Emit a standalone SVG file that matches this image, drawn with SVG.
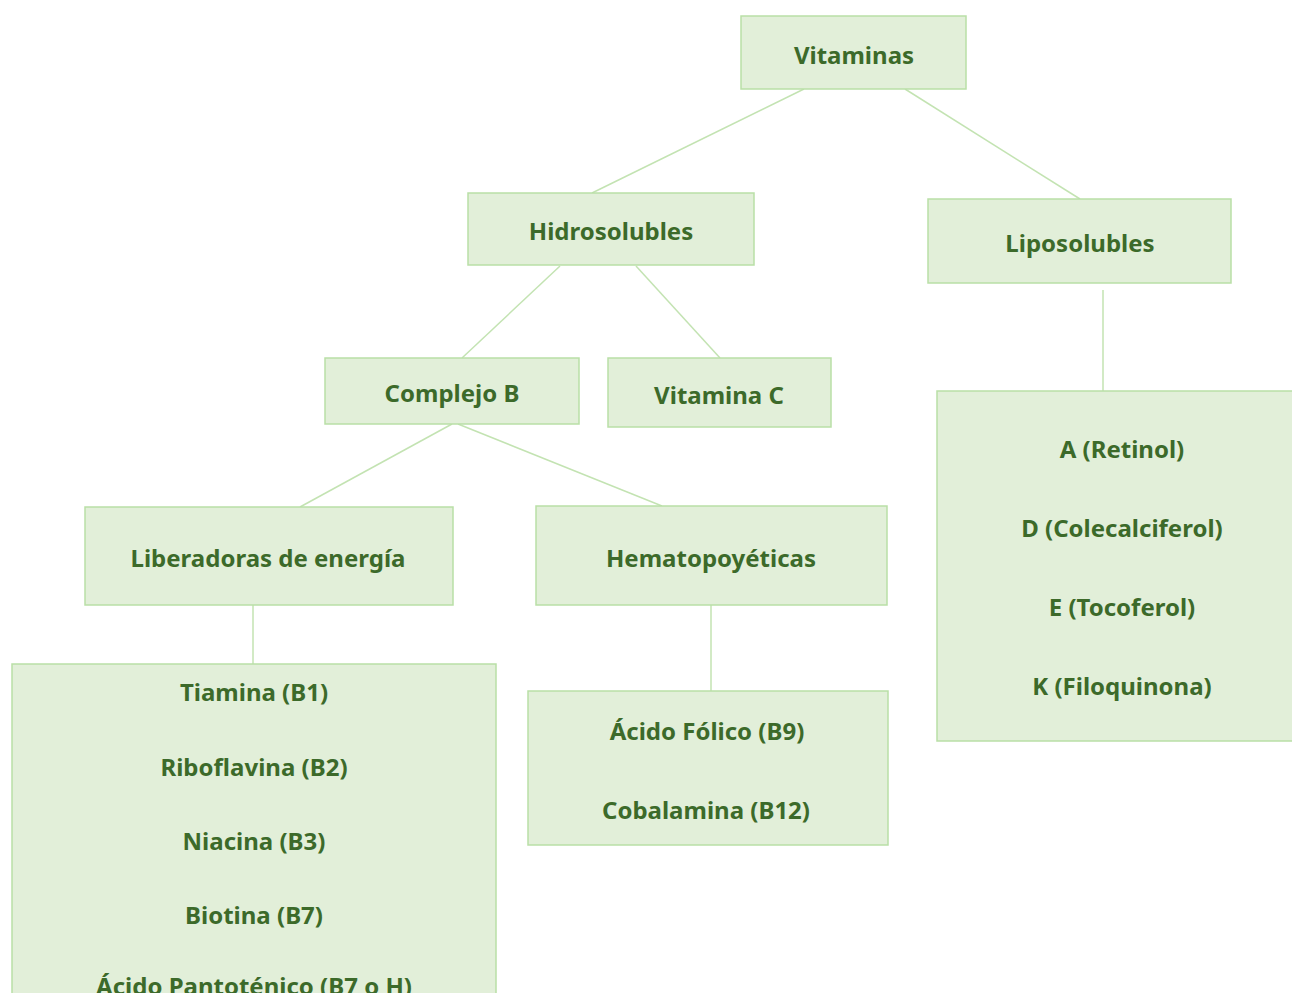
<svg xmlns="http://www.w3.org/2000/svg" width="1292" height="993" viewBox="0 0 1292 993">
<style>
.box{fill:#e2efd9;stroke:#b9dfa6;stroke-width:1.5}
.t{font-family:"Noto Sans","Open Sans","Liberation Sans",sans-serif;font-weight:bold;font-size:24px;fill:#3c6a2a;text-anchor:middle;dominant-baseline:central}
.c{stroke:#c3e3b2;stroke-width:1.5;fill:none}
</style>
<rect width="1292" height="993" fill="#ffffff"/>
<g id="connectors">
<line class="c" x1="804" y1="89" x2="592" y2="193"/>
<line class="c" x1="905" y1="89" x2="1080" y2="199"/>
<line class="c" x1="560" y1="266" x2="462" y2="358"/>
<line class="c" x1="636" y1="266" x2="720" y2="358"/>
<line class="c" x1="452" y1="424" x2="300" y2="507"/>
<line class="c" x1="458" y1="424" x2="662" y2="506"/>
<line class="c" x1="253" y1="605" x2="253" y2="685"/>
<line class="c" x1="711" y1="605" x2="711" y2="691"/>
<line class="c" x1="1103" y1="290" x2="1103" y2="391"/>
</g>
<g id="vitaminas"><rect class="box" x="741" y="16" width="225" height="73"/><text class="t" x="854" y="54">Vitaminas</text></g>
<g id="hidrosolubles"><rect class="box" x="468" y="193" width="286" height="72"/><text class="t" x="611" y="230">Hidrosolubles</text></g>
<g id="liposolubles"><rect class="box" x="928" y="199" width="303" height="84"/><text class="t" x="1080" y="242">Liposolubles</text></g>
<g id="complejo-b"><rect class="box" x="325" y="358" width="254" height="66"/><text class="t" x="452" y="392">Complejo B</text></g>
<g id="vitamina-c"><rect class="box" x="608" y="358" width="223" height="69"/><text class="t" x="719" y="394">Vitamina C</text></g>
<g id="liberadoras"><rect class="box" x="85" y="507" width="368" height="98"/><text class="t" x="268" y="557">Liberadoras de energía</text></g>
<g id="hematopoyeticas"><rect class="box" x="536" y="506" width="351" height="99"/><text class="t" x="711" y="557">Hematopoyéticas</text></g>
<g id="lista-liberadoras"><rect class="box" x="12" y="664" width="484" height="345"/>
<text class="t" x="254" y="691">Tiamina (B1)</text>
<text class="t" x="254" y="766">Riboflavina (B2)</text>
<text class="t" x="254" y="840">Niacina (B3)</text>
<text class="t" x="254" y="914">Biotina (B7)</text>
<text class="t" x="254" y="985">Ácido Pantoténico (B7 o H)</text>
</g>
<g id="lista-hematopoyeticas"><rect class="box" x="528" y="691" width="360" height="154"/>
<text class="t" x="707" y="730">Ácido Fólico (B9)</text>
<text class="t" x="706" y="809">Cobalamina (B12)</text>
</g>
<g id="lista-liposolubles"><rect class="box" x="937" y="391" width="360" height="350"/>
<text class="t" x="1122" y="448">A (Retinol)</text>
<text class="t" x="1122" y="527">D (Colecalciferol)</text>
<text class="t" x="1122" y="606">E (Tocoferol)</text>
<text class="t" x="1122" y="685">K (Filoquinona)</text>
</g>
</svg>
